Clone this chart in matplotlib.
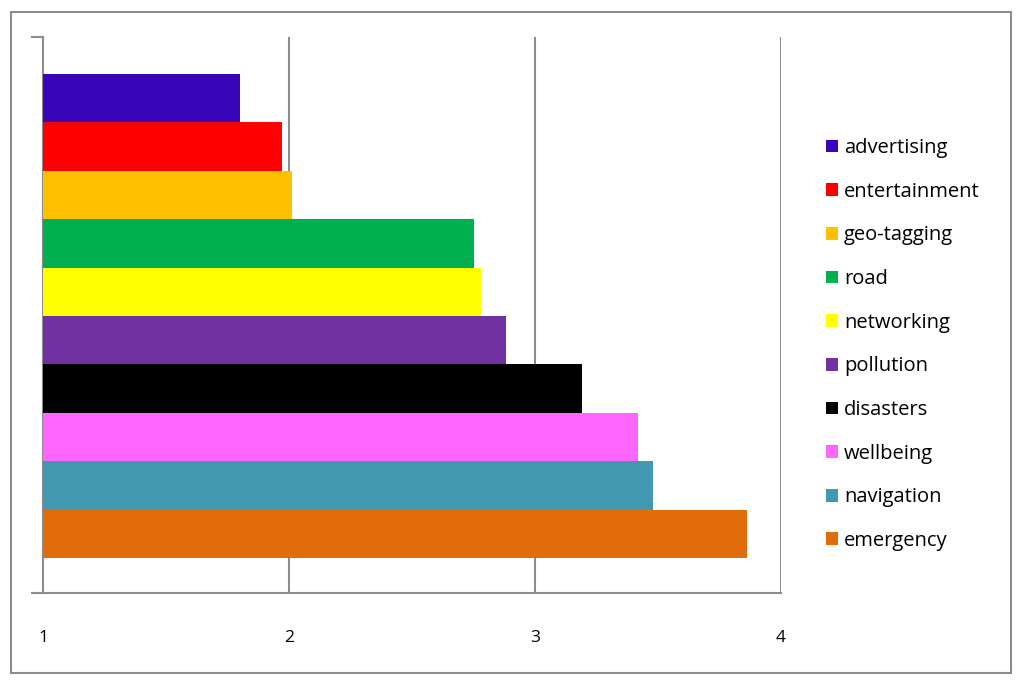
import matplotlib
matplotlib.use("Agg")
import matplotlib.pyplot as plt
from matplotlib.patches import Patch, Rectangle

# values
categories = ["advertising", "entertainment", "geo-tagging", "road", "networking",
              "pollution", "disasters", "wellbeing", "navigation", "emergency"]
values = [1.80, 1.97, 2.01, 2.75, 2.78, 2.88, 3.19, 3.42, 3.48, 3.86]
colours = ["#3A04B8", "#FF0000", "#FFC000", "#00B050", "#FFFF00",
           "#7030A0", "#000000", "#FF66FF", "#4198B0", "#E36C0A"]
xticks = [1, 2, 3, 4]

plt.rcParams['font.family'] = ['Open Sans', 'DejaVu Sans']
grey = "#8C8C8C"

fig = plt.figure(figsize=(10.24, 6.83), dpi=100)
ax = fig.add_axes([43.3/1024, 90/683, (781-43.3)/1024, 556/683])

base = xticks[0]
pos = list(range(len(categories)))
ax.barh(pos, [v - base for v in values], left=base, height=1.0,
        color=colours, edgecolor='none', zorder=3)

ax.set_xlim(xticks[0], xticks[-1])
ax.set_ylim(10.22, -1.26)
ax.set_xticks(xticks)
ax.set_xticklabels([str(t) for t in xticks], fontsize=12.5)
ax.tick_params(axis='x', length=0, pad=27)
ax.set_yticks([10.22, -1.26])
ax.set_yticklabels([])
ax.tick_params(axis='y', length=9, width=1.5, color=grey, direction='out')

for t in xticks[1:]:
    ax.axvline(t, color=grey, lw=1.5, zorder=1)

for s in ['top', 'right']:
    ax.spines[s].set_visible(False)
for s in ['left', 'bottom']:
    ax.spines[s].set_color(grey)
    ax.spines[s].set_linewidth(1.5)
ax.spines['bottom'].set_bounds(xticks[0] - 0.037, xticks[-1])

handles = [Patch(facecolor=c, edgecolor='none', label=l) for c, l in zip(colours, categories)]
fig.legend(handles=handles, loc='center left', bbox_to_anchor=(826/1024, 0.4956),
           frameon=False, fontsize=14.5, borderpad=0, borderaxespad=0,
           handlelength=0.6, handleheight=0.6, handletextpad=0.3,
           labelspacing=1.175)

# outer chart border
fig.patches.append(Rectangle((11/1024, 10/683), 1000/1024, 661/683, transform=fig.transFigure,
                             fill=False, edgecolor="#8C8C8C", lw=1.5))

fig.savefig("out.png", dpi=100)
